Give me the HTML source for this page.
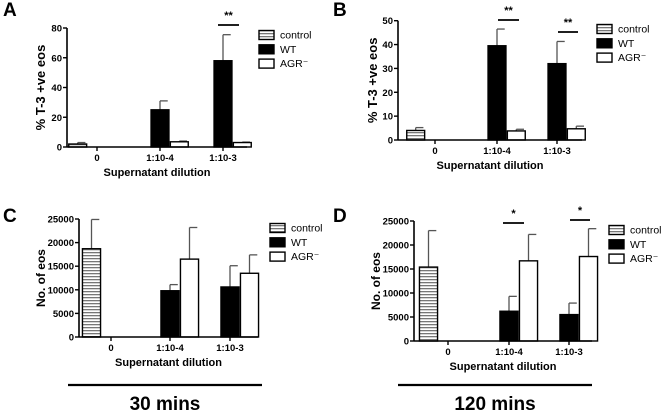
<!DOCTYPE html>
<html><head><meta charset="utf-8"><style>
html,body{margin:0;padding:0;background:#fff;}
svg{display:block;font-family:"Liberation Sans",Arial,sans-serif;}
</style></head><body>
<svg id="fig" width="661" height="414" viewBox="0 0 661 414">
<defs>
<pattern id="hatch" patternUnits="userSpaceOnUse" width="4" height="3">
<rect width="4" height="3" fill="#fff"/><rect y="0" width="4" height="1.3" fill="#777"/>
</pattern>
</defs>
</svg>
<script>
const categories = ["0","1:10-4","1:10-3"];
const seriesNames = ["control","WT","AGR\u207B"];
// Panel A
const aControl = [2, null, null], aControlErr = [3, null, null];
const aWT = [null, 25, 58], aWTErr = [null, 31, 75.5];
const aAGR = [null, 3.5, 3], aAGRErr = [null, 4, 3.3];
const aTicks = [0,20,40,60,80];
// Panel B
const bControl = [4, null, null], bControlErr = [5.2, null, null];
const bWT = [null, 39.5, 32], bWTErr = [null, 46.5, 41.3];
const bAGR = [null, 3.8, 4.7], bAGRErr = [null, 4.5, 5.8];
const bTicks = [0,10,20,30,40,50];
// Panel C
const cControl = [18700, null, null], cControlErr = [24900, null, null];
const cWT = [null, 9800, 10600], cWTErr = [null, 11100, 15100];
const cAGR = [null, 16500, 13500], cAGRErr = [null, 23200, 17400];
const cTicks = [0,5000,10000,15000,20000,25000];
// Panel D
const dControl = [15400, null, null], dControlErr = [23000, null, null];
const dWT = [null, 6200, 5500], dWTErr = [null, 9300, 7900];
const dAGR = [null, 16700, 17600], dAGRErr = [null, 22200, 23400];
const dTicks = [0,5000,10000,15000,20000,25000];

const NS="http://www.w3.org/2000/svg";
const svg=document.getElementById('fig');
function mk(tag,attrs,parent,text){const e=document.createElementNS(NS,tag);for(const k in attrs)e.setAttribute(k,attrs[k]);if(text!==undefined)e.textContent=text;(parent||svg).appendChild(e);return e;}

function panel(cfg){
  const g=mk('g',{});
  
  
  const ymax=cfg.ticks[cfg.ticks.length-1];
  const Y=v=>cfg.y0-(v/ymax)*(cfg.y0-cfg.ytop);
  const X=(ci,si)=>cfg.centers[ci]+(si-1.5)*cfg.bw;
  const lt=mk('text',{x:cfg.lx,y:cfg.ly,'font-size':19,'font-weight':'bold'},g,cfg.letter);
  
  
  const series=[[cfg.ctrl,cfg.ctrlE,'url(#hatch)'],[cfg.wt,cfg.wtE,'#000'],[cfg.agr,cfg.agrE,'#fff']];
  series.forEach((s,si)=>{
    s[0].forEach((v,ci)=>{
      if(v===null)return;
      const x=X(ci,si), top=Y(v), ex=x+cfg.bw/2, et=Y(s[1][ci]);
      const eb=mk('line',{x1:ex,x2:ex,y1:top,y2:et,stroke:'#555','stroke-width':1.3},g);
      
      
      const cap=mk('line',{x1:ex,x2:ex+cfg.bw*0.4,y1:et,y2:et,stroke:'#555','stroke-width':1.3},g);
      
      
      const r=mk('rect',{x:x+0.7,y:top,width:cfg.bw-1.4,height:cfg.y0-top,fill:s[2],stroke:'#000','stroke-width':1.4},g);
      
      
    });
  });
  // axes
  const ya=mk('line',{x1:cfg.ax,x2:cfg.ax,y1:cfg.ytop,y2:cfg.y0,stroke:'#000','stroke-width':1.6},g);
  
  
  const xa=mk('line',{x1:cfg.ax,x2:cfg.xend,y1:cfg.y0,y2:cfg.y0,stroke:'#000','stroke-width':1.6},g);
  
  
  cfg.ticks.forEach(t=>{
    mk('line',{x1:cfg.ax-4,x2:cfg.ax,y1:Y(t),y2:Y(t),stroke:'#000','stroke-width':1.4},g);
    const tl=mk('text',{x:cfg.ax-5,y:Y(t)+3.5,'font-size':9.5,'font-weight':'bold','text-anchor':'end'},g,String(t));
    
    
  });
  categories.forEach((c,ci)=>{
    const cx=cfg.centers[ci];
    mk('line',{x1:cx,x2:cx,y1:cfg.y0,y2:cfg.y0+4,stroke:'#000','stroke-width':1.4},g);
    const tl=mk('text',{x:cx,y:cfg.y0+14,'font-size':9.5,'font-weight':'bold','text-anchor':'middle'},g,c);
    
    
  });
  const xt=mk('text',{x:(cfg.ax+cfg.xend)/2,y:cfg.y0+29,'font-size':11,'font-weight':'bold','text-anchor':'middle'},g,'Supernatant dilution');
  
  
  const ym=(cfg.y0+cfg.ytop)/2;
  const yt=mk('text',{x:cfg.ytx,y:ym,'font-size':cfg.ytfs,'font-weight':'bold','text-anchor':'middle',transform:`rotate(-90 ${cfg.ytx} ${ym})`},g,cfg.ytitle);
  
  
  // legend
  seriesNames.forEach((n,i)=>{
    const ly=cfg.legY+i*14.3;
    const b=mk('rect',{x:cfg.legX,y:ly-4.5,width:15,height:9,fill:['url(#hatch)','#000','#fff'][i],stroke:'#000','stroke-width':1.4},g);
    
    
    const t=mk('text',{x:cfg.legX+21,y:ly+3.5,'font-size':10.5},g,n);
    
    
  });
  // significance
  cfg.sig.forEach(s=>{
    const l=mk('line',{x1:s[0],x2:s[1],y1:s[2],y2:s[2],stroke:'#000','stroke-width':1.8},g);
    
    
    const t=mk('text',{x:(s[0]+s[1])/2,y:s[2]-6,'font-size':11,'font-weight':'bold','text-anchor':'middle'},g,s[3]);
    
    
  });
}
panel({letter:'A',lx:3,ly:16,ax:67,xend:247,y0:147,ytop:28,centers:[97,160,223],bw:19.3,ticks:aTicks,
  ctrl:aControl,ctrlE:aControlErr,wt:aWT,wtE:aWTErr,agr:aAGR,agrE:aAGRErr,ytitle:'% T-3 +ve eos',ytx:45,ytfs:13,
  legX:259,legY:35,sig:[[218,239,25,'**']]});
panel({letter:'B',lx:333,ly:16,ax:398,xend:582,y0:140,ytop:20.7,centers:[435,497,557],bw:19.3,ticks:bTicks,
  ctrl:bControl,ctrlE:bControlErr,wt:bWT,wtE:bWTErr,agr:bAGR,agrE:bAGRErr,ytitle:'% T-3 +ve eos',ytx:377,ytfs:13,
  legX:597,legY:29,sig:[[498,519,20,'**'],[558,578,32,'**']]});
panel({letter:'C',lx:3,ly:222,ax:79,xend:258,y0:337,ytop:219,centers:[111,170,230],bw:19.5,ticks:cTicks,
  ctrl:cControl,ctrlE:cControlErr,wt:cWT,wtE:cWTErr,agr:cAGR,agrE:cAGRErr,ytitle:'No. of eos',ytx:45,ytfs:12,
  legX:270,legY:228,sig:[]});
panel({letter:'D',lx:333,ly:222,ax:414,xend:592,y0:341,ytop:221,centers:[448,509,569],bw:19.5,ticks:dTicks,
  ctrl:dControl,ctrlE:dControlErr,wt:dWT,wtE:dWTErr,agr:dAGR,agrE:dAGRErr,ytitle:'No. of eos',ytx:380,ytfs:12,
  legX:609,legY:230,sig:[[503,524,223,'*'],[570,590,220,'*']]});
[[68,262,'30 mins','time-label-30'],[398,592,'120 mins','time-label-120']].forEach(t=>{
  const l=mk('line',{x1:t[0],x2:t[1],y1:385,y2:385,stroke:'#000','stroke-width':2.2});
  
  
  const tx=mk('text',{x:(t[0]+t[1])/2,y:410,'font-size':19,'font-weight':'bold','text-anchor':'middle'},svg,t[2]);
  
  
});
</script>
</body></html>
